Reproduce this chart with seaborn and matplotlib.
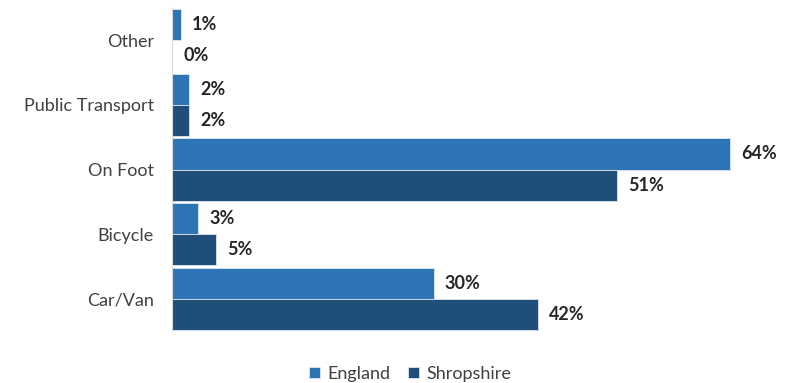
import matplotlib
matplotlib.use("Agg")
import matplotlib.pyplot as plt
import seaborn as sns
import pandas as pd

# Mode of travel to school, share of pupils
categories = ["Other", "Public Transport", "On Foot", "Bicycle", "Car/Van"]
england = [1, 2, 64, 3, 30]
shropshire = [0, 2, 51, 5, 42]
series_names = ["England", "Shropshire"]
colors = ["#2E75B6", "#1F4E79"]

df = pd.DataFrame({
    "Mode": categories * 2,
    "Share": england + shropshire,
    "Area": [series_names[0]] * len(categories) + [series_names[1]] * len(categories),
})

sns.set_theme(style="white")
plt.rcParams["font.family"] = ["Lato", "DejaVu Sans"]

fig = plt.figure(figsize=(7.87, 3.83), dpi=100)
ax = fig.add_axes([172 / 787, (383 - 331) / 383, 600 / 787, 323 / 383])

sns.barplot(
    data=df, y="Mode", x="Share", hue="Area", order=categories,
    hue_order=series_names, palette=colors, orient="h", width=0.96,
    edgecolor="#DCE6F2", linewidth=0.6, saturation=1, ax=ax,
)

for cont in ax.containers:
    ax.bar_label(cont, fmt="{:.0f}%", padding=8, fontsize=13, fontweight="bold",
                 color="#262626")

ax.set_xlim(0, 68.8)
ax.set_xlabel("")
ax.set_ylabel("")
ax.set_xticks([])
ax.tick_params(axis="y", length=0, pad=13, labelsize=13, labelcolor="#404040")
for side in ["top", "right", "bottom"]:
    ax.spines[side].set_visible(False)
ax.spines["left"].set_color("#D9D9D9")
ax.spines["left"].set_linewidth(0.8)

handles, labels = ax.get_legend_handles_labels()
ax.legend_.remove()
fig.legend(handles, labels, loc="center", bbox_to_anchor=(410 / 787, 1 - 374 / 383),
           ncol=2, frameon=False, fontsize=13, handlelength=0.6, handleheight=0.6,
           handletextpad=0.4, columnspacing=1.0, labelcolor="#404040")

fig.savefig("out.png", dpi=100)
